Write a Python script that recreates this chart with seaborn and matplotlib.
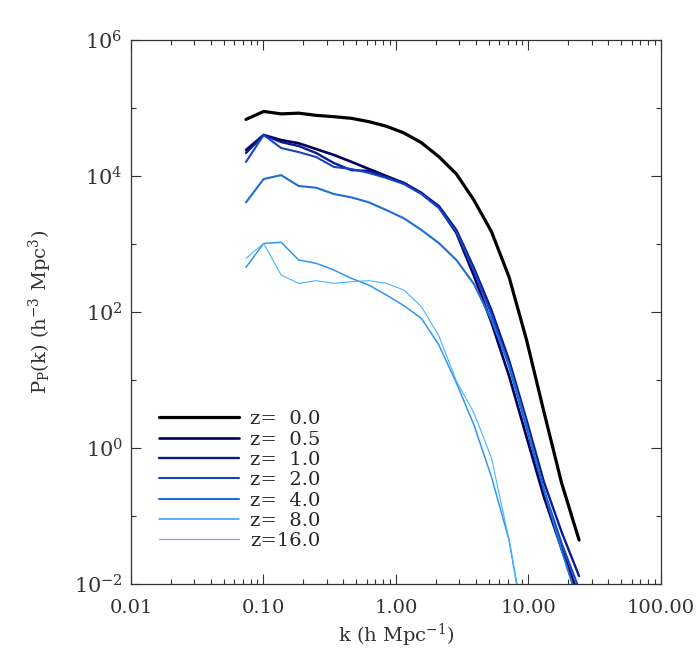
import numpy as np
import pandas as pd
import matplotlib
matplotlib.use('Agg')
import matplotlib.pyplot as plt
import matplotlib.ticker as mticker
import seaborn as sns

# wavenumbers (h/Mpc)
k = [0.0738, 0.1003, 0.136, 0.1845, 0.250, 0.340, 0.460, 0.624, 0.846, 1.148,
     1.556, 2.11, 2.86, 3.88, 5.26, 7.14, 9.68, 13.1, 17.8, 24.1]

# power spectra per redshift
p_z0 = [6.8e4, 8.9e4, 8.2e4, 8.4e4, 7.8e4, 7.45e4, 7.06e4, 6.3e4, 5.4e4, 4.3e4,
        3.09e4, 1.92e4, 1.07e4, 4.4e3, 1.52e3, 327, 38.7, 3.38, 0.305, 0.0444]
p_z05 = [2.41e4, 4.01e4, 3.38e4, 3.03e4, 2.49e4, 2.04e4, 1.62e4, 1.27e4, 1.0e4, 7.89e3,
         5.62e3, 3.50e3, 1.45e3, 340, 70, 11.5, 1.45, 0.19, 0.033, 0.0065]
p_z1 = [2.18e4, 4.01e4, 3.16e4, 2.76e4, 2.18e4, 1.55e4, 1.22e4, 1.19e4, 9.67e3, 7.89e3,
        5.62e3, 3.62e3, 1.61e3, 444, 107, 19.7, 2.58, 0.316, 0.0582, 0.0131]
p_z2 = [1.61e4, 4.01e4, 2.58e4, 2.25e4, 1.90e4, 1.36e4, 1.27e4, 1.11e4, 9.35e3, 7.62e3,
        5.43e3, 3.38e3, 1.50e3, 400, 92, 16.0, 2.0, 0.24, 0.04, 0.0085]
p_z4 = [4.10e3, 9.03e3, 1.03e4, 7.13e3, 6.73e3, 5.43e3, 4.86e3, 4.10e3, 3.16e3, 2.39e3,
        1.61e3, 1.03e3, 582, 258, 76.3, 16.6, 2.18, 0.241, 0.0316, 0.0049]
p_z8 = [454, 1.02e3, 1.06e3, 582, 520, 415, 313, 249, 178, 124,
        80.7, 32.7, 9.04, 2.18, 0.375, 0.0444, 0.0015]
p_z16 = [617, 1.02e3, 350, 264, 289, 264, 279, 289, 264, 211,
         120, 44.4, 9.66, 3.27, 0.713, 0.0444, 0.0015]

labels = ['z=  0.0', 'z=  0.5', 'z=  1.0', 'z=  2.0', 'z=  4.0', 'z=  8.0', 'z=16.0']
spectra = [p_z0, p_z05, p_z1, p_z2, p_z4, p_z8, p_z16]
colors = ['#000000', '#00005a', '#0a1a96', '#1446c0', '#1e6ed6', '#3296f0', '#46b4ff']
widths = [2.3, 1.9, 1.7, 1.5, 1.5, 1.1, 0.8]

sns.set_theme(style='ticks')
plt.rcParams['font.family'] = ['DejaVu Serif']
plt.rcParams['mathtext.fontset'] = 'dejavuserif'

fig = plt.figure(figsize=(7, 6.68), dpi=100)
ax = fig.add_axes([0.1871, 0.1257, 0.7571, 0.8144])

for lab, p, c, lw in zip(labels, spectra, colors, widths):
    sns.lineplot(x=k[:len(p)], y=p, ax=ax, color=c, linewidth=lw, label=lab,
                 sort=False, estimator=None)

ax.set_xscale('log')
ax.set_yscale('log')
ax.set_xlim(0.01, 100)
ax.set_ylim(1e-2, 1e6)

ax.xaxis.set_major_locator(mticker.FixedLocator([0.01, 0.1, 1, 10, 100]))
ax.xaxis.set_major_formatter(mticker.FuncFormatter(lambda v, pos: '%.2f' % v))
ax.xaxis.set_minor_locator(mticker.LogLocator(base=10, subs=np.arange(2, 10), numticks=20))
ax.xaxis.set_minor_formatter(mticker.NullFormatter())

ax.yaxis.set_major_locator(mticker.FixedLocator([1e-2, 1, 1e2, 1e4, 1e6]))
ax.yaxis.set_major_formatter(mticker.FuncFormatter(
    lambda v, pos: r'$10^{%d}$' % int(round(np.log10(v)))))
ax.yaxis.set_minor_locator(mticker.FixedLocator([1e-1, 1e1, 1e3, 1e5]))
ax.yaxis.set_minor_formatter(mticker.NullFormatter())

ax.tick_params(which='both', direction='in', top=True, right=True, color='#333333',
               width=0.8, labelsize=14, labelcolor='#333333')
ax.tick_params(axis='y', labelsize=15)
ax.tick_params(which='major', length=7.2)
ax.tick_params(which='minor', length=3.6)
ax.tick_params(axis='x', which='major', pad=11)
ax.tick_params(axis='y', which='major', pad=6)
for s in ax.spines.values():
    s.set_color('#333333')
    s.set_linewidth(0.9)

ax.set_xlabel(r'k (h Mpc$^{-1}$)', fontsize=14, color='#333333', labelpad=3)
ax.set_ylabel(r'P$_{\rm P}$(k) (h$^{-3}$ Mpc$^{3}$)', fontsize=14, color='#333333', labelpad=14)

ax.legend(loc='lower left', bbox_to_anchor=(0.053, 0.062), frameon=False, fontsize=14,
          handlelength=4.1, handletextpad=0.6, labelspacing=0.12,
          borderpad=0, borderaxespad=0)

fig.savefig('out.png', dpi=100)
